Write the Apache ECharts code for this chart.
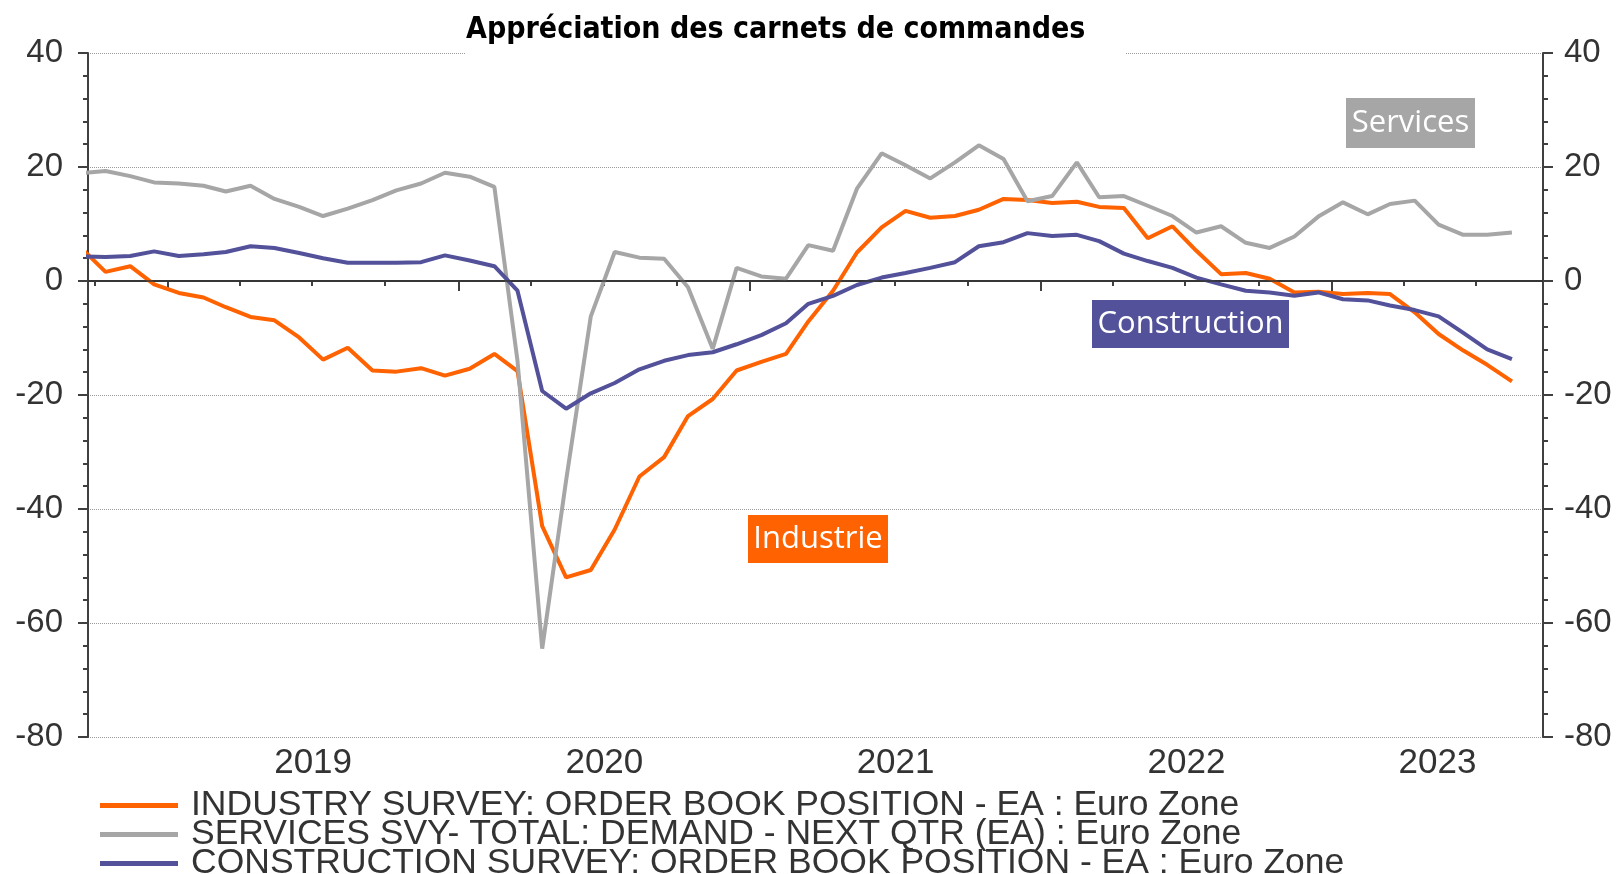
<!DOCTYPE html>
<html>
<head>
<meta charset="utf-8">
<title>Appréciation des carnets de commandes</title>
<script src="https://cdn.jsdelivr.net/npm/echarts@6/dist/echarts.min.js"></script>
<style>
  html, body { margin: 0; padding: 0; background: #fff; }
  #chart { width: 1624px; height: 874px; }
</style>
</head>
<body>
<div id="chart"></div>
<script>
// monthly survey points, placed mid-month
var months = [
  '2018-09', '2018-10', '2018-11', '2018-12',
  '2019-01', '2019-02', '2019-03', '2019-04', '2019-05', '2019-06', '2019-07', '2019-08', '2019-09', '2019-10', '2019-11', '2019-12',
  '2020-01', '2020-02', '2020-03', '2020-04', '2020-05', '2020-06', '2020-07', '2020-08', '2020-09', '2020-10', '2020-11', '2020-12',
  '2021-01', '2021-02', '2021-03', '2021-04', '2021-05', '2021-06', '2021-07', '2021-08', '2021-09', '2021-10', '2021-11', '2021-12',
  '2022-01', '2022-02', '2022-03', '2022-04', '2022-05', '2022-06', '2022-07', '2022-08', '2022-09', '2022-10', '2022-11', '2022-12',
  '2023-01', '2023-02', '2023-03', '2023-04', '2023-05', '2023-06', '2023-07', '2023-08'
];

var industrie = [
  5.7, 1.6, 2.6, -0.6,
  -2.1, -2.9, -4.6, -6.3, -6.9, -9.9, -13.8, -11.7, -15.7, -15.9, -15.3, -16.6,
  -15.4, -12.8, -15.8, -43.0, -52.0, -50.7, -43.6, -34.3, -30.9, -23.7, -20.7, -15.7,
  -14.2, -12.8, -7.1, -1.7, 5.0, 9.4, 12.3, 11.1, 11.4, 12.5, 14.4, 14.2,
  13.7, 13.9, 13.0, 12.8, 7.5, 9.6, 5.3, 1.2, 1.4, 0.4, -2.0, -1.9,
  -2.3, -2.1, -2.3, -5.5, -9.3, -12.2, -14.7, -17.6
];

var services = [
  18.9, 19.3, 18.4, 17.3,
  17.1, 16.7, 15.7, 16.7, 14.4, 13.0, 11.4, 12.7, 14.2, 15.9, 17.1, 19.0,
  18.3, 16.5, -14.0, -64.5, -35.0, -6.2, 5.1, 4.1, 3.9, -1.1, -11.9, 2.3,
  0.8, 0.4, 6.3, 5.3, 16.2, 22.4, 20.3, 18.0, 20.8, 23.8, 21.4, 14.0,
  14.9, 20.8, 14.7, 14.9, 13.2, 11.4, 8.5, 9.6, 6.7, 5.8, 7.8, 11.3,
  13.8, 11.7, 13.5, 14.1, 9.9, 8.1, 8.1, 8.5
];

var construction = [
  4.3, 4.2, 4.4, 5.2,
  4.4, 4.7, 5.1, 6.1, 5.8, 4.9, 4.0, 3.2, 3.2, 3.2, 3.3, 4.5,
  3.6, 2.6, -1.7, -19.3, -22.4, -19.7, -17.9, -15.5, -14.0, -13.0, -12.5, -11.1,
  -9.5, -7.4, -4.0, -2.6, -0.7, 0.6, 1.4, 2.3, 3.3, 6.1, 6.8, 8.4,
  7.9, 8.1, 7.0, 4.8, 3.5, 2.3, 0.6, -0.6, -1.7, -2.0, -2.6, -2.0,
  -3.2, -3.4, -4.3, -5.1, -6.2, -9.1, -12.0, -13.7
];

var seriesNames = [
  'INDUSTRY SURVEY: ORDER BOOK POSITION - EA : Euro Zone',
  'SERVICES SVY- TOTAL: DEMAND - NEXT QTR (EA) : Euro Zone',
  'CONSTRUCTION SURVEY: ORDER BOOK POSITION - EA : Euro Zone'
];
var seriesColors = ['#FF6200', '#A6A6A6', '#52519A'];
var years = [2019, 2020, 2021, 2022, 2023];
var yMin = -80, yMax = 40, yStep = 20;

var xMin = +new Date(2018, 8, 23);
var xMax = +new Date(2023, 8, 23);

function monthTime(m) {
  var p = m.split('-');
  return +new Date(+p[0], +p[1] - 1, 15);
}
function toPoints(values) {
  return months.map(function (m, i) { return [monthTime(m), values[i]]; });
}

// year boundaries (long ticks) and quarter boundaries (short ticks)
var yearStarts = years.map(function (y) { return +new Date(y, 0, 1); });
var quarterStarts = [];
for (var y = 2018; y <= 2023; y++) {
  [0, 3, 6, 9].forEach(function (mo) {
    var t = +new Date(y, mo, 1);
    if (t >= xMin && t <= xMax) quarterStarts.push(t);
  });
}
// year label sits in the middle of the visible part of the year
var yearCenters = years.map(function (y) {
  var a = Math.max(+new Date(y, 0, 1), xMin);
  var b = Math.min(+new Date(y + 1, 0, 1), xMax);
  return (a + b) / 2;
});

var axisColor = '#404040';
var txtFont = '"Liberation Sans", Arial, sans-serif';

var myChart = echarts.init(document.getElementById('chart'));

function yAxisOpt(pos, margin, grid) {
  return {
    type: 'value',
    position: pos,
    min: yMin,
    max: yMax,
    interval: yStep,
    axisLine: { show: true, lineStyle: { color: axisColor, width: 2 } },
    axisTick: { show: true, inside: false, length: 10, lineStyle: { color: axisColor, width: 2 } },
    minorTick: { show: true, splitNumber: 5, length: 5, lineStyle: { color: axisColor, width: 2 } },
    axisLabel: { color: '#333', fontSize: 33, fontFamily: txtFont, margin: margin },
    splitLine: { show: grid, lineStyle: { type: 'dotted', color: '#9a9a9a', width: 1 } }
  };
}

// one legend block per row, so the three rows stack tightly like the original
function legendRow(i) {
  return {
    orient: 'vertical',
    left: 100,
    top: 787.5 + i * 29,
    padding: 0,
    icon: 'rect',
    itemWidth: 78,
    itemHeight: 5,
    textStyle: { color: '#333', fontSize: 35.5, fontFamily: txtFont, padding: [0, 0, 0, 8] },
    data: [seriesNames[i]]
  };
}

var option = {
  animation: false,
  backgroundColor: '#fff',
  title: {
    text: 'Appréciation des carnets de commandes',
    left: 466,
    top: 12,
    padding: [0, 40, 7, 0],
    backgroundColor: '#fff',
    textStyle: {
      color: '#000',
      fontSize: 30,
      lineHeight: 36,
      fontWeight: 'bold',
      fontFamily: '"DejaVu Sans Condensed", "DejaVu Sans", sans-serif'
    }
  },
  grid: { left: 88, right: 81, top: 53, bottom: 137 },
  legend: [legendRow(0), legendRow(1), legendRow(2)],
  xAxis: [
    {
      type: 'value',
      min: xMin,
      max: xMax,
      position: 'bottom',
      axisLine: { show: true, lineStyle: { color: axisColor, width: 2 } },
      axisTick: { show: true, customValues: quarterStarts, length: 5, lineStyle: { color: axisColor, width: 2 } },
      axisLabel: {
        customValues: yearCenters,
        formatter: function (v) { return String(new Date(v).getFullYear()); },
        color: '#333',
        fontSize: 35,
        fontFamily: txtFont,
        margin: 9
      },
      splitLine: { show: false }
    },
    {
      type: 'value',
      min: xMin,
      max: xMax,
      position: 'bottom',
      axisLine: { show: false },
      axisTick: { show: true, customValues: yearStarts, length: 10, lineStyle: { color: axisColor, width: 2 } },
      axisLabel: { show: false },
      splitLine: { show: false }
    }
  ],
  yAxis: [yAxisOpt('left', 25, true), yAxisOpt('right', 21, false)],
  series: [
    {
      name: seriesNames[0],
      type: 'line',
      data: toPoints(industrie),
      showSymbol: false,
      itemStyle: { color: seriesColors[0] },
      lineStyle: { color: seriesColors[0], width: 4 },
      markLine: {
        silent: true,
        symbol: ['none', 'none'],
        label: { show: false },
        lineStyle: { color: '#333', width: 1.5, type: 'solid' },
        data: [{ yAxis: 0 }]
      }
    },
    {
      name: seriesNames[1],
      type: 'line',
      data: toPoints(services),
      showSymbol: false,
      itemStyle: { color: seriesColors[1] },
      lineStyle: { color: seriesColors[1], width: 4 }
    },
    {
      name: seriesNames[2],
      type: 'line',
      data: toPoints(construction),
      showSymbol: false,
      itemStyle: { color: seriesColors[2] },
      lineStyle: { color: seriesColors[2], width: 4 }
    }
  ],
  graphic: [
    { type: 'rect', shape: { x: 1346, y: 98, width: 129, height: 50 }, style: { fill: seriesColors[1] } },
    { type: 'text', x: 1410.5, y: 123, style: { text: 'Services', fill: '#fff', fontSize: 31, fontFamily: '"Open Sans"', align: 'center', verticalAlign: 'middle' } },
    { type: 'rect', shape: { x: 1092, y: 300, width: 197, height: 48 }, style: { fill: seriesColors[2] } },
    { type: 'text', x: 1190.5, y: 324, style: { text: 'Construction', fill: '#fff', fontSize: 31, fontFamily: '"Open Sans"', align: 'center', verticalAlign: 'middle' } },
    { type: 'rect', shape: { x: 748, y: 515, width: 140, height: 48 }, style: { fill: seriesColors[0] } },
    { type: 'text', x: 818, y: 539, style: { text: 'Industrie', fill: '#fff', fontSize: 31, fontFamily: '"Open Sans"', align: 'center', verticalAlign: 'middle' } }
  ]
};

myChart.setOption(option);
</script>
</body>
</html>
